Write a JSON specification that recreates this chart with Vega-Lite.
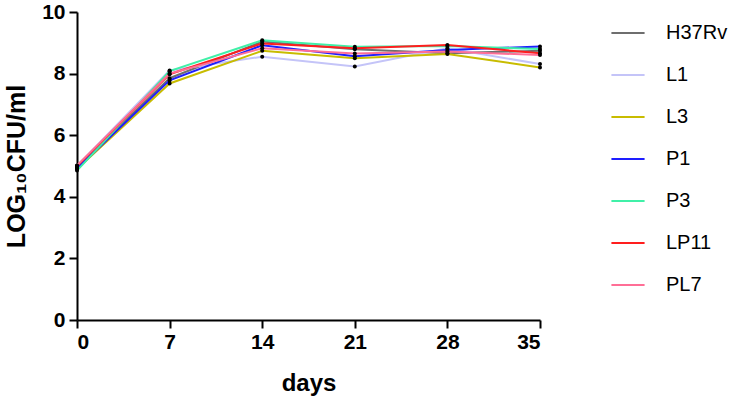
{
  "$schema": "https://vega.github.io/schema/vega-lite/v6.json",
  "width": 463,
  "height": 308,
  "autosize": "none",
  "padding": {"left": 77, "top": 12, "right": 195, "bottom": 81},
  "background": "white",
  "config": {
    "view": {"stroke": null},
    "font": "Liberation Sans"
  },
  "data": {
    "values": [
      {"strain": "H37Rv", "day": 0, "value": 4.95},
      {"strain": "H37Rv", "day": 7, "value": 7.85},
      {"strain": "H37Rv", "day": 14, "value": 9.04},
      {"strain": "H37Rv", "day": 21, "value": 8.79},
      {"strain": "H37Rv", "day": 28, "value": 8.66},
      {"strain": "H37Rv", "day": 35, "value": 8.74},
      {"strain": "L1", "day": 0, "value": 5.0},
      {"strain": "L1", "day": 7, "value": 8.1},
      {"strain": "L1", "day": 14, "value": 8.55},
      {"strain": "L1", "day": 21, "value": 8.23},
      {"strain": "L1", "day": 28, "value": 8.82},
      {"strain": "L1", "day": 35, "value": 8.31},
      {"strain": "L3", "day": 0, "value": 4.9},
      {"strain": "L3", "day": 7, "value": 7.68},
      {"strain": "L3", "day": 14, "value": 8.74},
      {"strain": "L3", "day": 21, "value": 8.5},
      {"strain": "L3", "day": 28, "value": 8.64},
      {"strain": "L3", "day": 35, "value": 8.2},
      {"strain": "P1", "day": 0, "value": 4.92},
      {"strain": "P1", "day": 7, "value": 7.78},
      {"strain": "P1", "day": 14, "value": 8.92},
      {"strain": "P1", "day": 21, "value": 8.56},
      {"strain": "P1", "day": 28, "value": 8.77},
      {"strain": "P1", "day": 35, "value": 8.88},
      {"strain": "P3", "day": 0, "value": 4.85},
      {"strain": "P3", "day": 7, "value": 8.08},
      {"strain": "P3", "day": 14, "value": 9.08},
      {"strain": "P3", "day": 21, "value": 8.87},
      {"strain": "P3", "day": 28, "value": 8.9},
      {"strain": "P3", "day": 35, "value": 8.8},
      {"strain": "LP11", "day": 0, "value": 5.0},
      {"strain": "LP11", "day": 7, "value": 7.98},
      {"strain": "LP11", "day": 14, "value": 8.98},
      {"strain": "LP11", "day": 21, "value": 8.82},
      {"strain": "LP11", "day": 28, "value": 8.93},
      {"strain": "LP11", "day": 35, "value": 8.66},
      {"strain": "PL7", "day": 0, "value": 5.02},
      {"strain": "PL7", "day": 7, "value": 8.0},
      {"strain": "PL7", "day": 14, "value": 8.82},
      {"strain": "PL7", "day": 21, "value": 8.65},
      {"strain": "PL7", "day": 28, "value": 8.72},
      {"strain": "PL7", "day": 35, "value": 8.6}
    ]
  },
  "encoding": {
    "x": {
      "field": "day", "type": "quantitative",
      "scale": {"domain": [0, 35], "nice": false, "zero": false},
      "axis": {
        "values": [0, 7, 14, 21, 28, 35], "title": "days", "grid": false,
        "domainColor": "black", "domainWidth": 2, "tickColor": "black", "tickWidth": 2, "tickSize": 8,
        "labelFont": "Liberation Sans", "labelFontWeight": "bold", "labelFontSize": 21, "labelColor": "black", "labelPadding": 3,
        "titleFont": "Liberation Sans", "titleFontWeight": "bold", "titleFontSize": 24, "titleColor": "black", "titlePadding": 19
      }
    },
    "y": {
      "field": "value", "type": "quantitative",
      "scale": {"domain": [0, 10], "nice": false},
      "axis": {
        "values": [0, 2, 4, 6, 8, 10], "title": "LOG₁₀CFU/ml", "grid": false,
        "domainColor": "black", "domainWidth": 2, "tickColor": "black", "tickWidth": 2, "tickSize": 8,
        "labelFont": "Liberation Sans", "labelFontWeight": "bold", "labelFontSize": 21, "labelColor": "black", "labelPadding": 4,
        "titleFont": "Liberation Sans", "titleFontWeight": "bold", "titleFontSize": 25, "titleColor": "black", "titlePadding": 12
      }
    }
  },
  "layer": [
    {
      "mark": {"type": "line", "strokeWidth": 2},
      "encoding": {
        "color": {
          "field": "strain", "type": "nominal",
          "scale": {
            "domain": ["H37Rv", "L1", "L3", "P1", "P3", "LP11", "PL7"],
            "range": ["#6e6e6e", "#c4c4f8", "#c8bc00", "#1e1eff", "#40f0a8", "#ff1e1e", "#ff6e96"]
          },
          "legend": {
            "title": null, "orient": "none", "legendX": 533, "legendY": 3,
            "symbolType": "stroke", "symbolSize": 1100, "symbolStrokeWidth": 2,
            "labelFont": "Liberation Sans", "labelFontSize": 20, "labelColor": "black",
            "rowPadding": 14, "labelOffset": 20
          }
        }
      }
    },
    {
      "mark": {"type": "point", "filled": true, "color": "black", "size": 16, "opacity": 1, "shape": "circle"},
      "encoding": {}
    }
  ]
}
